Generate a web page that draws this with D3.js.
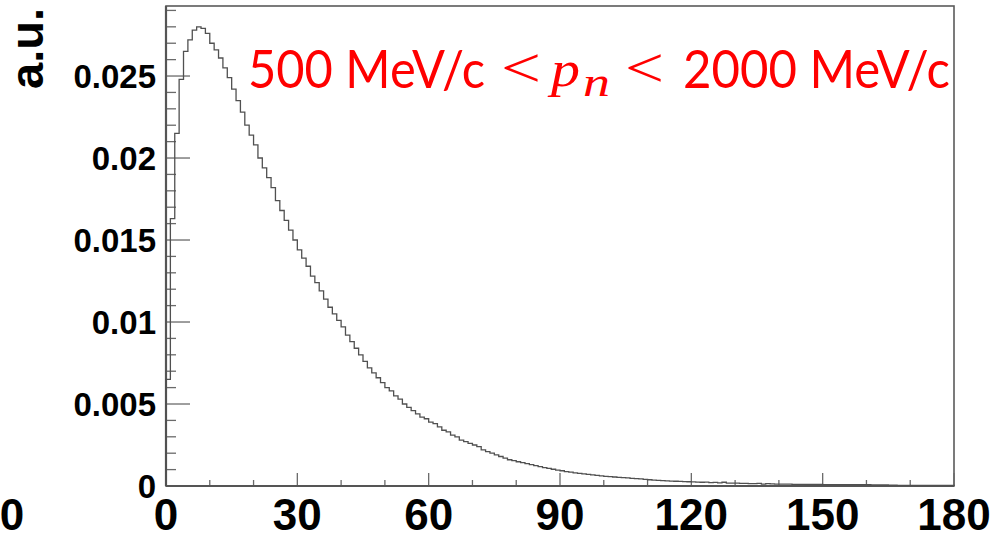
<!DOCTYPE html>
<html>
<head>
<meta charset="utf-8">
<script src="https://cdn.jsdelivr.net/npm/d3@7"></script>
<style>
  body { margin: 0; background: #fff; }
  svg { display: block; }
</style>
</head>
<body>
<svg id="chart" width="1008" height="536"></svg>
<script>
// histogram contents, one value per 1-unit bin from 0 to 180
const binEdges = [0, 180];
const counts = [
  0.0065, 0.0163, 0.0215, 0.0248, 0.0265, 0.0272, 0.0278, 0.0280, 0.0279, 0.0276,
  0.0270, 0.0266, 0.0261, 0.0255, 0.0249, 0.0242, 0.0235, 0.0228, 0.0220, 0.0214,
  0.0208, 0.0200, 0.0194, 0.0188, 0.0182, 0.0174, 0.0168, 0.0162, 0.0156, 0.0150,
  0.0144, 0.0139, 0.0134, 0.0128, 0.0124, 0.0119, 0.0114, 0.0109, 0.0105, 0.0101,
  0.0097, 0.0092, 0.0088, 0.0084, 0.0080, 0.0076, 0.0072, 0.0069, 0.0066, 0.0063,
  0.0060, 0.0058, 0.0055, 0.0053, 0.0050, 0.0048, 0.0046, 0.0044, 0.0042, 0.0041,
  0.0039, 0.0038, 0.0036, 0.0034, 0.0033, 0.0031, 0.0030, 0.0028, 0.0027, 0.0026,
  0.0025, 0.0024, 0.0022, 0.0021, 0.0020, 0.0019, 0.0018, 0.0017, 0.0016, 0.00155,
  0.00148, 0.00142, 0.00136, 0.00130, 0.00124, 0.00118, 0.00112, 0.00107, 0.00102, 0.00097,
  0.00093, 0.00088, 0.00084, 0.00080, 0.00077, 0.00074, 0.00071, 0.00068, 0.00065, 0.00062,
  0.00059, 0.00057, 0.00055, 0.00053, 0.00051, 0.00049, 0.00047, 0.00045, 0.00043, 0.00041,
  0.00038, 0.00036, 0.00034, 0.00033, 0.00031, 0.00030, 0.00029, 0.00028, 0.00027, 0.00026,
  0.00025, 0.00024, 0.00023, 0.00024, 0.00020, 0.00022, 0.00019, 0.00023, 0.00018, 0.00017,
  0.00017, 0.00016, 0.00016, 0.00015, 0.00015, 0.00016, 0.00012, 0.00014, 0.00013, 0.00012,
  0.00012, 0.00011, 0.00011, 0.00010, 0.00010, 0.00010, 0.00009, 0.00009, 0.00009, 0.00009,
  0.00008, 0.00008, 0.00008, 0.00008, 0.00008, 0.00008, 0.00008, 0.00008, 0.00008, 0.00008,
  0.00008, 0.00007, 0.00007, 0.00006, 0.00006, 0.00005, 0.00005, 0.00004, 0.00004, 0.00004,
  0.00004, 0.00003, 0.00003, 0.00003, 0.00003, 0.00003, 0.00003, 0.00003, 0.00003, 0.00003
];

const xMajorTicks = [0, 30, 60, 90, 120, 150, 180];
const xMinorTicks = [10, 20, 40, 50, 70, 80, 100, 110, 130, 140, 160, 170];
const yMajorTicks = [0, 0.005, 0.01, 0.015, 0.02, 0.025];
const yTickLabels = ["0", "0.005", "0.01", "0.015", "0.02", "0.025"];
const yMax = 0.02927;
const yLabel = "a.u.";

const svg = d3.select("#chart");
const frame = { left: 166, right: 954, top: 6, bottom: 486 };

const x = d3.scaleLinear().domain(binEdges).range([frame.left, frame.right]);
const y = d3.scaleLinear().domain([0, yMax]).range([frame.bottom, frame.top]);

const binW = (binEdges[1] - binEdges[0]) / counts.length;
const yMinorTicks = d3.range(0, yMax, 0.001).filter(v => Math.abs(v / 0.005 - Math.round(v / 0.005)) > 1e-6);

// frame
svg.append("rect")
  .attr("x", frame.left).attr("y", frame.top)
  .attr("width", frame.right - frame.left).attr("height", frame.bottom - frame.top)
  .attr("fill", "none").attr("stroke", "#5a5a5a").attr("stroke-width", 1.6);

// y axis ticks (inside)
const gy = svg.append("g");
gy.selectAll("line.minor").data(yMinorTicks).enter().append("line")
  .attr("x1", frame.left).attr("x2", frame.left + 10)
  .attr("y1", d => y(d)).attr("y2", d => y(d))
  .attr("stroke", "#6a6a6a").attr("stroke-width", 1.3);
gy.selectAll("line.major").data(yMajorTicks).enter().append("line")
  .attr("x1", frame.left).attr("x2", frame.left + 24)
  .attr("y1", d => y(d)).attr("y2", d => y(d))
  .attr("stroke", "#6a6a6a").attr("stroke-width", 1.3);
gy.selectAll("text").data(yMajorTicks).enter().append("text")
  .attr("x", frame.left - 10)
  .attr("y", d => y(d) + 11.5)
  .attr("text-anchor", "end")
  .style("font-family", "'Liberation Sans', Arial, sans-serif")
  .style("font-weight", "bold")
  .style("font-size", "33px")
  .text((d, i) => yTickLabels[i]);

// x axis ticks (inside)
const gx = svg.append("g");
gx.selectAll("line.minor").data(xMinorTicks).enter().append("line")
  .attr("x1", d => x(d)).attr("x2", d => x(d))
  .attr("y1", frame.bottom).attr("y2", frame.bottom - 6)
  .attr("stroke", "#6a6a6a").attr("stroke-width", 1.3);
gx.selectAll("line.major").data(xMajorTicks).enter().append("line")
  .attr("x1", d => x(d)).attr("x2", d => x(d))
  .attr("y1", frame.bottom).attr("y2", frame.bottom - 13)
  .attr("stroke", "#6a6a6a").attr("stroke-width", 1.3);
gx.selectAll("text").data(xMajorTicks).enter().append("text")
  .attr("x", d => x(d))
  .attr("y", 530)
  .attr("text-anchor", "middle")
  .style("font-family", "'Liberation Sans', Arial, sans-serif")
  .style("font-weight", "bold")
  .style("font-size", "44px")
  .text(d => d);

// stray label at far left
svg.append("text")
  .attr("x", 12).attr("y", 530)
  .attr("text-anchor", "middle")
  .style("font-family", "'Liberation Sans', Arial, sans-serif")
  .style("font-weight", "bold")
  .style("font-size", "44px")
  .text(xMajorTicks[0]);

// axis lines
svg.append("line")
  .attr("x1", frame.left).attr("x2", frame.left)
  .attr("y1", frame.top).attr("y2", frame.bottom)
  .attr("stroke", "#555").attr("stroke-width", 2.2);
svg.append("line")
  .attr("x1", frame.left).attr("x2", frame.right)
  .attr("y1", frame.bottom).attr("y2", frame.bottom)
  .attr("stroke", "#555").attr("stroke-width", 2.2);

// histogram outline
let path = d3.path();
path.moveTo(x(binEdges[0]), y(0));
counts.forEach((v, i) => {
  path.lineTo(x(binEdges[0] + i * binW), y(v));
  path.lineTo(x(binEdges[0] + (i + 1) * binW), y(v));
});
path.lineTo(x(binEdges[1]), y(0));
svg.append("path")
  .attr("d", path.toString())
  .attr("fill", "none")
  .attr("stroke", "#505050")
  .attr("stroke-width", 1.3);

// y title
svg.append("text")
  .attr("transform", "translate(43,8) rotate(-90)")
  .attr("text-anchor", "end")
  .style("font-family", "'Liberation Sans', Arial, sans-serif")
  .style("font-weight", "bold")
  .style("font-size", "47px")
  .text(yLabel);

// red annotation
const red = "#ff0000";
const ann = svg.append("g").attr("fill", red);
const sans = "Lato, 'Open Sans', sans-serif";
const serif = "'Liberation Serif', 'DejaVu Serif', serif";
function seg(txt, x0, x1, base, family, size, italic) {
  ann.append("text")
    .attr("x", x0).attr("y", base)
    .attr("textLength", x1 - x0)
    .attr("lengthAdjust", "spacingAndGlyphs")
    .style("font-family", family)
    .style("font-size", size + "px")
    .style("font-style", italic ? "italic" : "normal")
    .text(txt);
}
seg("500 MeV/c", 248, 485, 88, sans, 53, false);
seg("<", 501, 541, 87, serif, 58, false);
seg("p", 551, 580, 86, serif, 50, true);
seg("n", 583, 610, 96, serif, 42, true);
seg("<", 625, 664, 87, serif, 58, false);
seg("2000 MeV/c", 683, 950, 88, sans, 53, false);
</script>
</body>
</html>
